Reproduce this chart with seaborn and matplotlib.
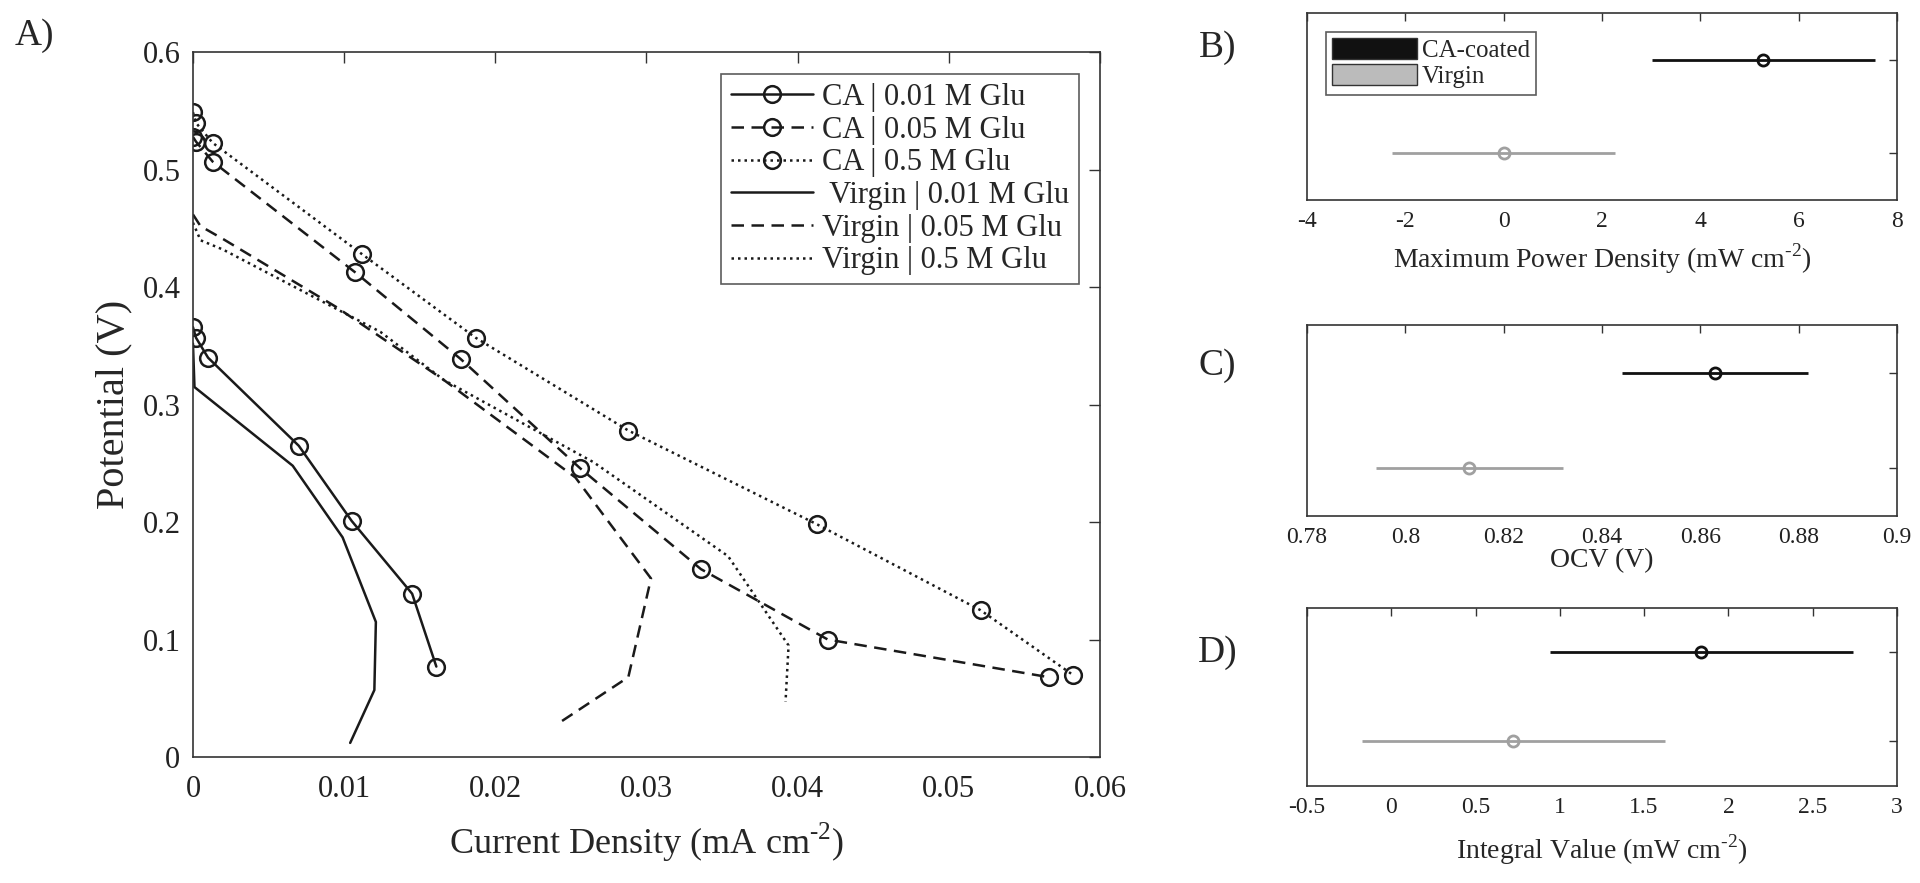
import matplotlib
matplotlib.use("Agg")
import matplotlib.pyplot as plt
from matplotlib.patches import Patch
from matplotlib.ticker import FormatStrFormatter
import seaborn as sns

# A) polarisation curves
ca_001_x = [0, 0.0002, 0.001, 0.007, 0.0105, 0.0145, 0.0161]
ca_001_y = [0.366, 0.357, 0.340, 0.265, 0.201, 0.139, 0.077]
ca_005_x = [0, 0.0002, 0.0013, 0.0107, 0.0177, 0.0256, 0.0336, 0.0420, 0.0566]
ca_005_y = [0.528, 0.524, 0.507, 0.413, 0.339, 0.246, 0.160, 0.100, 0.068]
ca_05_x = [0, 0.0002, 0.0013, 0.0112, 0.0187, 0.0288, 0.0413, 0.0521, 0.0582]
ca_05_y = [0.549, 0.540, 0.523, 0.428, 0.357, 0.278, 0.198, 0.125, 0.070]
vi_001_x = [0, 0.0001, 0.0066, 0.0099, 0.0121, 0.0120, 0.0104]
vi_001_y = [0.352, 0.315, 0.248, 0.187, 0.115, 0.057, 0.012]
vi_005_x = [0, 0.0005, 0.002, 0.0095, 0.0166, 0.0253, 0.0303, 0.0288, 0.0241]
vi_005_y = [0.462, 0.452, 0.441, 0.383, 0.321, 0.238, 0.152, 0.068, 0.028]
vi_05_x = [0, 0.0005, 0.002, 0.0124, 0.0166, 0.0265, 0.0354, 0.0394, 0.0392]
vi_05_y = [0.455, 0.440, 0.432, 0.362, 0.321, 0.251, 0.171, 0.095, 0.047]

# B-D) mean and half range, [CA-coated, Virgin]
groups = ["CA-coated", "Virgin"]
group_pos = [2, 1]
mpd_mean = [5.28, 0.0]
mpd_err = [2.27, 2.27]
ocv_mean = [0.863, 0.813]
ocv_err = [0.019, 0.019]
integral_mean = [1.84, 0.725]
integral_err = [0.90, 0.90]

sns.set_theme(style="white")
plt.rcParams["font.family"] = ["Liberation Serif", "DejaVu Serif"]
plt.rcParams["mathtext.fontset"] = "custom"
plt.rcParams["mathtext.rm"] = "Liberation Serif"
plt.rcParams["axes.edgecolor"] = "#333333"
plt.rcParams["axes.linewidth"] = 1.2

fig = plt.figure(figsize=(19.2, 8.83), dpi=100)
ax = fig.add_axes([0.1005, 0.1427, 0.4724, 0.798])

dot = (0, (1, 1.6))
dash = (0, (5, 3))
series = [
    (ca_001_x, ca_001_y, "-", "o", "CA | 0.01 M Glu"),
    (ca_005_x, ca_005_y, dash, "o", "CA | 0.05 M Glu"),
    (ca_05_x, ca_05_y, dot, "o", "CA | 0.5 M Glu"),
    (vi_001_x, vi_001_y, "-", None, " Virgin | 0.01 M Glu"),
    (vi_005_x, vi_005_y, dash, None, "Virgin | 0.05 M Glu"),
    (vi_05_x, vi_05_y, dot, None, "Virgin | 0.5 M Glu"),
]
for xs, ys, ls, mk, lab in series:
    sns.lineplot(x=xs, y=ys, ax=ax, sort=False, estimator=None, color="k",
                 linestyle=ls, linewidth=1.8, marker=mk, markersize=12,
                 markerfacecolor="none", markeredgecolor="k",
                 markeredgewidth=1.8, label=lab)

ax.set_xlim(0, 0.06)
ax.set_ylim(0, 0.6)
ax.set_xticks([0, 0.01, 0.02, 0.03, 0.04, 0.05, 0.06])
ax.set_yticks([0, 0.1, 0.2, 0.3, 0.4, 0.5, 0.6])
ax.xaxis.set_major_formatter(FormatStrFormatter("%g"))
ax.yaxis.set_major_formatter(FormatStrFormatter("%g"))
ax.tick_params(direction="in", top=True, right=True, length=8, width=1,
               labelsize=22, colors="#333333", labelcolor="#222222")
ax.tick_params(axis="x", pad=13)
ax.tick_params(axis="y", pad=9)
ax.set_xlabel(r"Current Density (mA cm$^{\text{-2}}$)", fontsize=26, labelpad=12)
ax.set_ylabel("Potential (V)", fontsize=29, labelpad=7)
leg = ax.legend(loc="upper right", fontsize=22, frameon=True, fancybox=False,
                edgecolor="#333333", handlelength=2.7, handletextpad=0.3,
                borderpad=0.3, labelspacing=0.12, borderaxespad=0.7)
leg.get_frame().set_linewidth(1.2)
fig.text(0.018, 0.960, "A)", fontsize=27, va="center", ha="center")

colors = ["#111111", "#a0a0a0"]
panels = [
    ([0.6807, 0.7735, 0.3073, 0.2118], mpd_mean, mpd_err, (-4, 8), range(-4, 9, 2),
     r"Maximum Power Density (mW cm$^{\text{-2}}$)", "B)", 0.946, 7),
    ([0.6807, 0.4156, 0.3073, 0.2163], ocv_mean, ocv_err, (0.78, 0.9),
     [0.78, 0.8, 0.82, 0.84, 0.86, 0.88, 0.9], "OCV (V)", "C)", 0.5855, 0),
    ([0.6807, 0.1099, 0.3073, 0.2016], integral_mean, integral_err, (-0.5, 3),
     [-0.5, 0, 0.5, 1, 1.5, 2, 2.5, 3],
     r"Integral Value (mW cm$^{\text{-2}}$)", "D)", 0.2605, 10),
]
for rect, means, errs, lim, ticks, xlabel, tag, ty, lp in panels:
    bx = fig.add_axes(rect)
    for m, e, p, c in zip(means, errs, group_pos, colors):
        bx.errorbar(m, p, xerr=e, fmt="o", color=c, ecolor=c, elinewidth=2,
                    capsize=0, markersize=8, markerfacecolor="none",
                    markeredgewidth=2)
    bx.set_xlim(*lim)
    bx.set_ylim(0.5, 2.5)
    bx.set_xticks(list(ticks))
    bx.xaxis.set_major_formatter(FormatStrFormatter("%g"))
    bx.set_yticks([1, 2])
    bx.set_yticklabels([])
    bx.tick_params(direction="in", top=True, right=True, length=6, width=1,
                   labelsize=17, pad=8, colors="#333333", labelcolor="#222222")
    bx.set_xlabel(xlabel, fontsize=20, labelpad=lp)
    fig.text(0.634, ty, tag, fontsize=27, va="center", ha="center")
    if tag == "B)":
        handles = [Patch(facecolor=c, edgecolor="#333333", label=g)
                   for g, c in zip(groups, ["#111111", "#bbbbbb"])]
        lg = bx.legend(handles=handles, loc="upper left", fontsize=18,
                       frameon=True, fancybox=False, edgecolor="#333333",
                       handlelength=3.4, handleheight=0.9, handletextpad=0.2,
                       borderpad=0.25, labelspacing=0.1, borderaxespad=0.75)
        lg.get_frame().set_linewidth(1.2)

fig.savefig("out.png", dpi=100)
